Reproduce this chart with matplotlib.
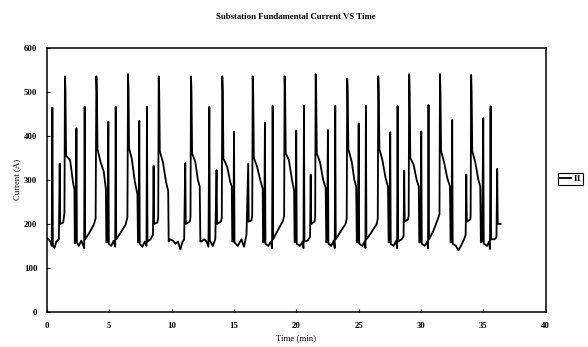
import matplotlib
matplotlib.use("Agg")
import matplotlib.pyplot as plt

plt.rcParams['font.family'] = ['Liberation Serif', 'DejaVu Serif']
plt.rcParams['font.weight'] = 'bold'

# Time (min) and fundamental current (A), cycle by cycle
time_min = [
    0.00, 0.15, 0.30, 0.38, 0.43, 0.47, 0.60, 0.75, 0.95, 1.02, 1.06, 1.30, 1.40,
    1.44, 1.48, 1.53, 1.85, 2.10, 2.20, 2.23,
    2.30, 2.36, 2.40, 2.55, 2.75, 2.92, 2.98, 3.02, 3.06, 3.40, 3.75, 3.90,
    3.96, 4.00, 4.05, 4.30, 4.55, 4.72, 4.76,
    4.85, 4.92, 4.96, 5.15, 5.35, 5.47, 5.51, 5.55, 5.90, 6.30, 6.45,
    6.50, 6.54, 6.58, 6.80, 7.05, 7.25, 7.30,
    7.35, 7.40, 7.44, 7.65, 7.85, 7.98, 8.02, 8.06, 8.30, 8.50, 8.55, 8.59, 8.85, 8.92,
    8.96, 9.00, 9.05, 9.30, 9.55, 9.72, 9.76,
    9.85, 10.10, 10.30, 10.50, 10.70, 10.85, 11.00, 11.09, 11.13, 11.45, 11.51,
    11.55, 11.59, 11.64, 11.90, 12.10, 12.25, 12.30,
    12.40, 12.60, 12.80, 12.95, 13.02, 13.06, 13.30, 13.50, 13.60, 13.64, 13.95, 14.02,
    14.06, 14.10, 14.15, 14.45, 14.70, 14.82, 14.86,
    14.95, 15.00, 15.04, 15.30, 15.60, 15.80, 16.00, 16.14, 16.18, 16.40, 16.46,
    16.50, 16.54, 16.59, 16.85, 17.10, 17.30, 17.33,
    17.42, 17.48, 17.52, 17.75, 17.95, 18.05, 18.10, 18.14, 18.50, 18.90, 19.02,
    19.06, 19.10, 19.15, 19.40, 19.65, 19.82, 19.86,
    19.93, 19.99, 20.03, 20.30, 20.50, 20.57, 20.61, 20.65, 20.90, 21.10, 21.15, 21.19, 21.45, 21.51,
    21.55, 21.59, 21.64, 21.90, 22.15, 22.35, 22.40,
    22.47, 22.53, 22.57, 22.80, 23.00, 23.08, 23.12, 23.16, 23.60, 23.95, 24.04,
    24.08, 24.12, 24.17, 24.45, 24.65, 24.80, 24.85,
    24.93, 25.00, 25.04, 25.30, 25.48, 25.54, 25.58, 25.62, 26.00, 26.45, 26.53,
    26.57, 26.61, 26.66, 26.90, 27.15, 27.35, 27.40,
    27.47, 27.53, 27.57, 27.80, 28.00, 28.08, 28.12, 28.16, 28.45, 28.60, 28.65, 28.69, 28.95, 29.01,
    29.05, 29.09, 29.14, 29.40, 29.65, 29.82, 29.86,
    29.95, 30.02, 30.06, 30.30, 30.50, 30.56, 30.60, 30.64, 31.00, 31.40, 31.48,
    31.52, 31.56, 31.61, 31.85, 32.10, 32.32, 32.37,
    32.44, 32.50, 32.54, 32.80, 33.00, 33.20, 33.45, 33.58, 33.63, 33.67, 33.95, 33.98,
    34.02, 34.06, 34.11, 34.35, 34.60, 34.75, 34.80,
    34.90, 34.99, 35.03, 35.30, 35.45, 35.53, 35.58, 35.62, 35.90, 36.05, 36.11, 36.15, 36.38,
]
current_a = [
    167, 165, 158, 150, 464, 152, 145, 160, 165, 337, 200, 203, 225,
    535, 505, 355, 345, 292, 278, 156,
    160, 417, 158, 150, 162, 150, 145, 466, 165, 180, 198, 212,
    535, 500, 370, 340, 319, 280, 158,
    160, 432, 155, 150, 162, 148, 466, 165, 180, 198, 215,
    540, 505, 372, 348, 295, 268, 158,
    160, 434, 155, 148, 160, 150, 466, 160, 165, 175, 332, 200, 203, 215,
    535, 500, 365, 340, 295, 275, 160,
    165, 162, 155, 160, 142, 158, 165, 338, 200, 205, 215,
    535, 500, 360, 340, 300, 285, 160,
    160, 165, 160, 148, 466, 162, 150, 165, 322, 200, 205, 215,
    535, 500, 348, 330, 295, 285, 160,
    160, 410, 158, 150, 165, 148, 175, 337, 205, 208, 218,
    535, 500, 350, 330, 300, 280, 158,
    160, 430, 155, 150, 160, 145, 468, 165, 185, 205, 218,
    535, 500, 360, 345, 300, 275, 158,
    160, 412, 155, 150, 160, 145, 468, 160, 162, 170, 312, 200, 205, 215,
    540, 500, 360, 340, 300, 282, 158,
    160, 413, 155, 150, 162, 145, 468, 165, 185, 200, 212,
    530, 500, 370, 340, 300, 285, 158,
    160, 428, 155, 150, 160, 145, 468, 165, 180, 200, 212,
    535, 500, 370, 345, 305, 285, 158,
    160, 408, 155, 150, 162, 145, 468, 160, 165, 172, 321, 205, 210, 218,
    540, 500, 350, 335, 300, 285, 158,
    160, 410, 155, 150, 160, 145, 470, 165, 185, 215, 222,
    540, 500, 365, 340, 305, 285, 158,
    160, 436, 155, 150, 140, 150, 165, 175, 312, 205, 210, 218,
    538, 500, 365, 340, 300, 285, 158,
    160, 440, 155, 150, 160, 143, 467, 165, 165, 170, 325, 200, 200,
]

x_ticks = [0, 5, 10, 15, 20, 25, 30, 35, 40]
y_ticks = [0, 100, 200, 300, 400, 500, 600]

fig = plt.figure(figsize=(5.88, 3.47), dpi=100)
ax = fig.add_axes([47 / 588, 1 - 312 / 347, (545.7 - 47) / 588, (312 - 47.7) / 347])

ax.plot(time_min, current_a, color='black', lw=1.3, label='I1')

ax.set_xlim(0, 40)
ax.set_ylim(0, 600)
ax.set_xticks(x_ticks)
ax.set_yticks(y_ticks)
ax.tick_params(direction='in', length=2.5, width=0.8, labelsize=6.3, pad=7)
for s in ax.spines.values():
    s.set_linewidth(1.1)
    s.set_color('black')

ax.set_xlabel('Time (min)', fontsize=6.3, labelpad=3)
ax.set_ylabel('Current (A)', fontsize=6.3, labelpad=2)
fig.text(296 / 588, 1 - 17 / 347, 'Substation Fundamental Current VS Time',
         ha='center', va='center', fontsize=6.3)

leg = fig.legend(loc='center left', bbox_to_anchor=(558 / 588, 1 - 179 / 347),
                 fontsize=6.3, handlelength=1.2, handletextpad=0.3,
                 borderpad=0.25, borderaxespad=0, fancybox=False,
                 edgecolor='black', framealpha=1)
leg.get_frame().set_linewidth(0.8)

fig.savefig('out.png', dpi=100)
